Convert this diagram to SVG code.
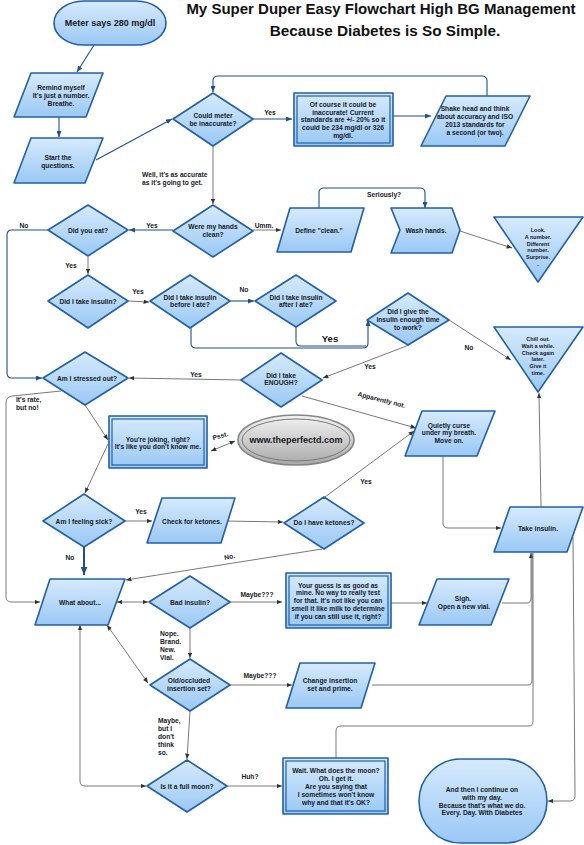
<svg xmlns="http://www.w3.org/2000/svg" width="584" height="845" viewBox="0 0 584 845">
<defs>
<linearGradient id="g" x1="0" y1="0" x2="0" y2="1"><stop offset="0" stop-color="#d6eafd"/><stop offset="1" stop-color="#9ac8f5"/></linearGradient>
<linearGradient id="gg" x1="0" y1="0" x2="0" y2="1"><stop offset="0" stop-color="#f4f4f4"/><stop offset="1" stop-color="#a9a9a9"/></linearGradient>
<marker id="ab" viewBox="0 0 6 5" refX="6" refY="2.5" markerWidth="6" markerHeight="5" markerUnits="userSpaceOnUse" orient="auto-start-reverse"><path d="M0,0 L6,2.5 L0,5 Z" fill="#1f4f8a"/></marker>
<marker id="ag" viewBox="0 0 6 5" refX="6" refY="2.5" markerWidth="5.5" markerHeight="4.5" markerUnits="userSpaceOnUse" orient="auto-start-reverse"><path d="M0,0 L6,2.5 L0,5 Z" fill="#333"/></marker>
<marker id="abig" viewBox="0 0 6 5" refX="6" refY="2.5" markerWidth="8" markerHeight="7" markerUnits="userSpaceOnUse" orient="auto"><path d="M0,0 L6,2.5 L0,5 Z" fill="#1f4f8a"/></marker>
</defs>
<style>
.n{fill:url(#g);stroke:#2160a8;stroke-width:1.6;stroke-linejoin:round}
.i{fill:none;stroke:#2160a8;stroke-width:1.2}
.t{font-family:"Liberation Sans",Arial,sans-serif;font-weight:bold;font-size:6.7px;fill:#16181d;text-anchor:middle}
.s{font-size:5.5px}
.big{font-size:9px}
.yes{font-size:9.5px}
.a{text-anchor:start}
.cb{fill:none;stroke:#1f4f8a;stroke-width:1.1;marker-end:url(#ab)}
.cg{fill:none;stroke:#555;stroke-width:0.8;marker-end:url(#ag)}
.cn{fill:none;stroke:#555;stroke-width:0.8}
.cbn{fill:none;stroke:#1f4f8a;stroke-width:1.1}
.h{font-family:"Liberation Sans",Arial,sans-serif;font-weight:bold;fill:#111;text-anchor:middle}
</style>
<rect width="584" height="845" fill="#fff"/>
<g id="title">
<text class="h" x="381" y="14" font-size="15">My Super Duper Easy Flowchart High BG Management</text>
<text class="h" x="385" y="36" font-size="15.3">Because Diabetes is So Simple.</text>
</g>
<g id="connectors">
<path class="cb" d="M94,45 L77,72"/>
<path class="cb" d="M59,117 L59,137"/>
<path class="cb" d="M96,160 L172,119"/>
<path class="cb" d="M253,119 L292,119"/>
<path class="cb" d="M393,116 L431,116"/>
<path class="cb" d="M487,96 L487,81 Q487,76 482,76 L218,76 Q213,76 213,81 L213,92"/>
<path class="cg" d="M213,146 L213,204"/>
<path class="cb" d="M173,230 L129,230"/>
<path class="cg" d="M253,230 L281,230"/>
<path class="cb" d="M319,208 L319,193 Q319,188 324,188 L420,188 Q425,188 425,193 L425,208"/>
<path class="cg" d="M460,231 L512,248"/>
<path class="cb" d="M48,230 L12,230 Q7,230 7,235 L7,373 Q7,378 12,378 L42,378"/>
<path class="cg" d="M88,257 L88,274"/>
<path class="cg" d="M128,301 L149,302"/>
<path class="cb" d="M230,301 L254,301"/>
<path class="cb" d="M191,328 L191,343 Q191,348 196,348 L363,348 Q368,348 368,343 L368,320"/>
<path class="cbn" d="M296,327 L296,341 Q296,346 301,346 L366,346"/>
<path class="cg" d="M449,320 L511,360"/>
<path class="cg" d="M409,345 L323,378"/>
<path class="cg" d="M541,507 L539,393"/>
<path class="cg" d="M241,380 L129,378"/>
<path class="cg" d="M302,396 L416,428"/>
<path class="cg" d="M61,391 L12,396 Q6,397 6,403 L6,597 Q6,602 12,602 L40,602"/>
<path class="cg" d="M85,405 L108,440"/>
<path class="cg" d="M108,444 L85,493"/>
<path class="cg" d="M211,451 L235,441" marker-start="url(#ag)"/>
<path class="cg" d="M125,521 L152,521"/>
<path d="M84,547 L84,575" fill="none" stroke="#1f4f8a" stroke-width="2" marker-end="url(#abig)"/>
<path class="cg" d="M225,521 L283,522"/>
<path class="cg" d="M325,497 L414,431"/>
<path class="cg" d="M322,549 L126,580"/>
<path class="cg" d="M443,456 L443,523 Q443,528 448,528 L501,528"/>
<path class="cg" d="M117,602 L148,602" marker-start="url(#ag)"/>
<path class="cg" d="M230,602 L282,602"/>
<path class="cg" d="M391,603 L427,603"/>
<path class="cg" d="M502,603 L527,603 Q531,603 531,598 L531,553"/>
<path class="cg" d="M190,628 L190,658"/>
<path class="cg" d="M107,625 L148,683" marker-start="url(#ag)"/>
<path class="cg" d="M230,685 L292,685"/>
<path class="cn" d="M372,685 L528,685 Q532,685 532,680 L532,553"/>
<path class="cg" d="M190,711 L187,759"/>
<path class="cg" d="M80,625 L80,781 Q80,786 85,786 L146,786" marker-start="url(#ag)"/>
<path class="cg" d="M227,786 L282,786"/>
<path class="cn" d="M336,758 L336,731 Q336,726 341,726 L529,726 Q533,726 533,721 L533,553"/>
<path class="cg" d="M573,537 L575,796 Q575,801 570,801 L548,801"/>
</g>
<g id="labels">
<text class="t" x="270" y="115">Yes</text>
<text class="t a" x="142" y="176.5">Well, it's as accurate</text>
<text class="t a" x="142" y="185">as it's going to get.</text>
<text class="t a" x="367" y="197">Seriously?</text>
<text class="t" x="264" y="228">Umm.</text>
<text class="t" x="152" y="227.5">Yes</text>
<text class="t" x="24" y="228">No</text>
<text class="t" x="71" y="267.5">Yes</text>
<text class="t" x="138" y="293.5">Yes</text>
<text class="t" x="244" y="292">No</text>
<text class="t yes" x="330" y="342">Yes</text>
<text class="t" x="469" y="350">No</text>
<text class="t" x="370" y="368.5">Yes</text>
<text class="t" x="196" y="377">Yes</text>
<text class="t" x="381" y="402" transform="rotate(14 381 402)">Apparently not.</text>
<text class="t a" x="16" y="401.5">It's rate,</text>
<text class="t a" x="16" y="409.5">but no!</text>
<text class="t" x="221" y="438" transform="rotate(-16 221 438)">Psst.</text>
<text class="t" x="141" y="513.5">Yes</text>
<text class="t" x="70" y="560">No</text>
<text class="t" x="366" y="483.5">Yes</text>
<text class="t" x="230" y="559" transform="rotate(-12 230 559)">No.</text>
<text class="t" x="257" y="597">Maybe???</text>
<text class="t a" x="160" y="635.5">Nope.</text>
<text class="t a" x="160" y="643.5">Brand.</text>
<text class="t a" x="160" y="651.5">New.</text>
<text class="t a" x="160" y="660">Vial.</text>
<text class="t" x="260" y="677.5">Maybe???</text>
<text class="t a" x="158" y="722.5">Maybe,</text>
<text class="t a" x="158" y="730.6">but I</text>
<text class="t a" x="158" y="738.7">don't</text>
<text class="t a" x="158" y="746.8">think</text>
<text class="t a" x="158" y="755">so.</text>
<text class="t" x="250" y="778.5">Huh?</text>
</g>
<g id="meter"><rect class="n" x="54" y="1" width="112" height="44" rx="30" ry="22"/><text class="t big" x="110" y="26">Meter says 280 mg/dl</text></g>
<g id="remind"><path class="n" d="M31,73 L103,73 L86,117 L14,117 Z"/><text class="t" x="61" y="90">Remind myself</text><text class="t" x="61" y="98">It's just a number.</text><text class="t" x="61" y="106">Breathe.</text></g>
<g id="start"><path class="n" d="M31,138 L103,138 L85,183 L14,183 Z"/><text class="t" x="58" y="159.5">Start the</text><text class="t" x="58" y="167.5">questions.</text></g>
<g id="could"><path class="n" d="M173,119 L213,93 L253,119 L213,146 Z"/><text class="t" x="213" y="117.5">Could meter</text><text class="t" x="213" y="125.5">be inaccurate?</text></g>
<g id="ofcourse"><rect class="n" x="294" y="93" width="99" height="53"/><rect class="i" x="297" y="96" width="93" height="47"/><text class="t" x="343" y="106.5">Of course it could be</text><text class="t" x="343" y="114.5">inaccurate! Current</text><text class="t" x="343" y="122.3">standards are +/- 20% so it</text><text class="t" x="343" y="130">could be 234 mg/dl or 326</text><text class="t" x="343" y="137.8">mg/dl.</text></g>
<g id="shake"><path class="n" d="M446,96 L530,96 L505,146 L421,146 Z"/><text class="t" x="475" y="110.5">Shake head and think</text><text class="t" x="475" y="118.8">about accuracy and ISO</text><text class="t" x="475" y="126.5">2013 standards for</text><text class="t" x="475" y="134.5">a second (or two).</text></g>
<g id="hands"><path class="n" d="M173,231 L213,205 L253,231 L213,257 Z"/><text class="t" x="213" y="228.5">Were my hands</text><text class="t" x="213" y="236.5">clean?</text></g>
<g id="define"><path class="n" d="M290,208 L364,208 L351,252 L277,252 Z"/><text class="t" x="319" y="232.5">Define "clean."</text></g>
<g id="wash"><path class="n" d="M391,208 L452,208 L460,230 L452,253 L391,253 L400,230 Z"/><text class="t" x="426" y="232.5">Wash hands.</text></g>
<g id="look"><path class="n" d="M494,217 L583,217 L538,282 Z"/><text class="t s" x="538" y="232">Look.</text><text class="t s" x="538" y="238.8">A number.</text><text class="t s" x="538" y="245.6">Different</text><text class="t s" x="538" y="252.4">number.</text><text class="t s" x="538" y="259.2">Surprise.</text><text class="t s" x="538" y="266">.</text></g>
<g id="eat"><path class="n" d="M48,230 L88,205 L128,230 L88,256 Z"/><text class="t" x="88" y="232.5">Did you eat?</text></g>
<g id="insulin"><path class="n" d="M48,301 L88,275 L128,301 L88,328 Z"/><text class="t" x="88" y="303.5">Did I take insulin?</text></g>
<g id="before"><path class="n" d="M150,301 L190,275 L230,301 L190,328 Z"/><text class="t" x="190" y="299.5">Did I take insulin</text><text class="t" x="190" y="307">before I ate?</text></g>
<g id="after"><path class="n" d="M255,301 L296,275 L336,301 L296,327 Z"/><text class="t" x="296" y="299.5">Did I take insulin</text><text class="t" x="296" y="306.8">after I ate?</text></g>
<g id="enoughtime"><path class="n" d="M367,320 L408,293 L449,320 L408,345 Z"/><text class="t" x="408" y="313.5">Did I give the</text><text class="t" x="408" y="321.5">insulin enough time</text><text class="t" x="408" y="329.5">to work?</text></g>
<g id="chill"><path class="n" d="M494,327 L583,327 L538,392 Z"/><text class="t s" x="538" y="341.3">Chill out.</text><text class="t s" x="538" y="348">Wait a while.</text><text class="t s" x="538" y="354.7">Check again</text><text class="t s" x="538" y="361.3">later.</text><text class="t s" x="538" y="368">Give it</text><text class="t s" x="538" y="374.7">time.</text></g>
<g id="enough"><path class="n" d="M241,380 L281,353 L322,380 L281,407 Z"/><text class="t" x="281" y="377.5">Did I take</text><text class="t" x="281" y="385.3">ENOUGH?</text></g>
<g id="stressed"><path class="n" d="M43,378 L85,352 L128,378 L85,405 Z"/><text class="t" x="87" y="380.5">Am I stressed out?</text></g>
<g id="joking"><rect class="n" x="109" y="416" width="98" height="52"/><rect class="i" x="112" y="419" width="92" height="46"/><text class="t" x="158" y="441.5">You're joking, right?</text><text class="t" x="158" y="449.2">It's like you don't know me.</text></g>
<g id="site"><ellipse cx="296" cy="440" rx="58" ry="25" fill="url(#gg)" stroke="#858585" stroke-width="1.6"/><ellipse cx="296" cy="440" rx="54" ry="21" fill="none" stroke="#777" stroke-width="1"/><text class="t big" x="296" y="443">www.theperfectd.com</text></g>
<g id="sick"><path class="n" d="M43,521 L84,494 L125,521 L84,547 Z"/><text class="t" x="84" y="523.5">Am I feeling sick?</text></g>
<g id="check"><path class="n" d="M162,498 L235,498 L221,543 L147,543 Z"/><text class="t" x="192" y="523.5">Check for ketones.</text></g>
<g id="ketones"><path class="n" d="M284,523 L324,497 L364,523 L324,549 Z"/><text class="t" x="324" y="525.3">Do I have ketones?</text></g>
<g id="curse"><path class="n" d="M422,411 L495,411 L477,456 L405,456 Z"/><text class="t" x="449" y="427.5">Quietly curse</text><text class="t" x="449" y="435">under my breath.</text><text class="t" x="449" y="442.5">Move on.</text></g>
<g id="take"><path class="n" d="M510,507 L583,507 L567,552 L494,552 Z"/><text class="t" x="538" y="531">Take insulin.</text></g>
<g id="whatabout"><path class="n" d="M50,579 L125,579 L108,625 L35,625 Z"/><text class="t" x="80" y="605">What about...</text></g>
<g id="bad"><path class="n" d="M149,602 L190,576 L230,602 L190,628 Z"/><text class="t" x="190" y="604.5">Bad insulin?</text></g>
<g id="guess"><rect class="n" x="286" y="573" width="105" height="55"/><rect class="i" x="289" y="576" width="99" height="49"/><text class="t" x="338" y="587.5">Your guess is as good as</text><text class="t" x="338" y="595.3">mine. No way to really test</text><text class="t" x="338" y="603.2">for that. It's not like you can</text><text class="t" x="338" y="611">smell it like milk to determine</text><text class="t" x="338" y="619">if you can still use it, right?</text></g>
<g id="sigh"><path class="n" d="M437,579 L509,579 L491,625 L419,625 Z"/><text class="t" x="463" y="601">Sigh.</text><text class="t" x="464" y="608.7">Open a new vial.</text></g>
<g id="old"><path class="n" d="M150,685 L190,659 L230,685 L190,711 Z"/><text class="t" x="189" y="683">Old/occluded</text><text class="t" x="189" y="691">insertion set?</text></g>
<g id="change"><path class="n" d="M300,663 L375,663 L361,708 L286,708 Z"/><text class="t" x="330" y="683">Change insertion</text><text class="t" x="330" y="691">set and prime.</text></g>
<g id="moon"><path class="n" d="M147,786 L187,760 L227,786 L187,812 Z"/><text class="t" x="187" y="788.5">Is it a full moon?</text></g>
<g id="wait"><rect class="n" x="283" y="758" width="105" height="56"/><rect class="i" x="286" y="761" width="99" height="50"/><text class="t" x="336" y="773.2">Wait. What does the moon?</text><text class="t" x="336" y="781">Oh. I get it.</text><text class="t" x="336" y="788.7">Are you saying that</text><text class="t" x="336" y="796.5">I sometimes won't know</text><text class="t" x="336" y="804.5">why and that it's OK?</text></g>
<g id="end"><rect class="n" x="419" y="759" width="128" height="84" rx="42" ry="42"/><text class="t" x="482" y="792">And then I continue on</text><text class="t" x="482" y="799.8">with my day.</text><text class="t" x="482" y="807.5">Because that's what we do.</text><text class="t" x="482" y="815.2">Every. Day. With Diabetes</text></g>
</svg>
